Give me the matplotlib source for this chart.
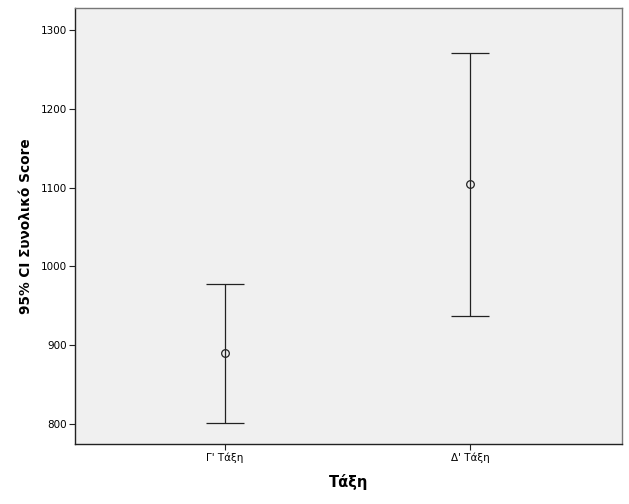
import matplotlib
matplotlib.use('Agg')
from matplotlib import pyplot as plt

# values
categories = ["Γ' Τάξη", "Δ' Τάξη"]
means = [890, 1104]
ci_lower = [801, 937]
ci_upper = [978, 1271]
yticks = [800, 900, 1000, 1100, 1200, 1300]

plt.rcParams['font.family'] = ['DejaVu Sans']

fig = plt.figure(figsize=(6.29, 5.04), dpi=100)
ax = fig.add_axes([75 / 629, 60 / 504, 547 / 629, 436 / 504])
ax.set_facecolor('#f0f0f0')

x = list(range(len(categories)))
err_lo = [m - lo for m, lo in zip(means, ci_lower)]
err_hi = [hi - m for m, hi in zip(means, ci_upper)]
ax.errorbar(x, means, yerr=[err_lo, err_hi], fmt='o', color='#222222',
            mfc='none', mec='#222222', ms=5.5, mew=0.9, elinewidth=0.9,
            capsize=13.5, capthick=0.9)

ax.set_xlim(-0.612, 1.62)
ax.set_ylim(774.6, 1328)
ax.set_xticks(x)
ax.set_xticklabels(categories, fontsize=7.5)
ax.set_yticks(yticks)
ax.set_yticklabels([str(v) for v in yticks], fontsize=7.5)
ax.tick_params(length=4, width=0.8, color='#222222', pad=2)

ax.set_xlabel('Τάξη', fontsize=10.5, fontweight='bold', labelpad=8)
ax.set_ylabel('95% CI Συνολικό Score', fontsize=9.8, fontweight='bold',
              labelpad=5)

for side in ['left', 'bottom']:
    ax.spines[side].set_color('#222222')
    ax.spines[side].set_linewidth(1.0)
for side in ['top', 'right']:
    ax.spines[side].set_color('#777777')
    ax.spines[side].set_linewidth(1.0)

fig.savefig('out.png', dpi=100)
